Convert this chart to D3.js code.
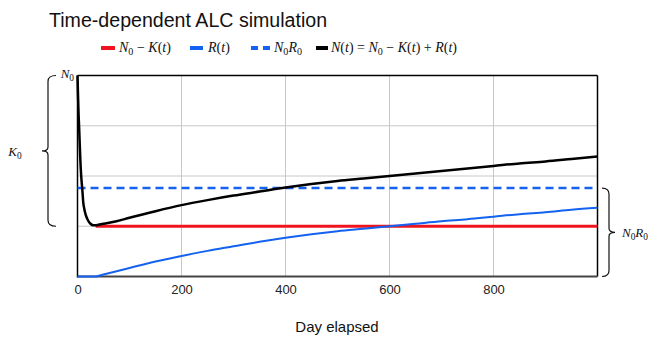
<!DOCTYPE html>
<html><head><meta charset="utf-8">
<script src="https://cdn.jsdelivr.net/npm/d3@7"></script>
<style>body{margin:0;background:#fff}svg{display:block}</style>
</head><body>
<svg id="c" width="648" height="337"></svg>
<script>
// ---- data ----
const title = "Time-dependent ALC simulation";
const xLabel = "Day elapsed";
const xTicks = [0, 200, 400, 600, 800];
const yGrid = [1, 2, 3];
const N0 = 4;          // initial level (top of chart)
const K0 = 3;          // total drop
const N0R0 = 1.76;     // asymptote of R(t)
const redDays = [0, 30, 35, 1000];
const redVals = [null, null, 1, 1];
const rDays = [0, 35, 50, 100, 150, 200, 250, 300, 350, 400, 450, 500, 550, 600, 650, 700, 750, 800, 850, 900, 950, 1000];
const rVals = [0, 0, 0.04, 0.17, 0.30, 0.41, 0.51, 0.60, 0.69, 0.77, 0.84, 0.90, 0.95, 1.00, 1.05, 1.10, 1.14, 1.19, 1.24, 1.28, 1.33, 1.37];
const nDays = [0, 1, 2, 3, 4, 5, 6, 7, 8, 9, 10, 11, 13, 16, 20, 25, 30, 35, 40, 50, 75, 100, 150, 200, 250, 300, 350, 400, 450, 500, 550, 600, 650, 700, 750, 800, 850, 900, 950, 1000];
const nVals = [4.0, 3.6, 3.25, 3.0, 2.72, 2.45, 2.2, 2.02, 1.88, 1.76, 1.62, 1.48, 1.35, 1.22, 1.12, 1.05, 1.02, 1.02, 1.03, 1.05, 1.10, 1.17, 1.30, 1.42, 1.52, 1.61, 1.69, 1.77, 1.84, 1.90, 1.95, 2.00, 2.05, 2.10, 2.15, 2.20, 2.25, 2.29, 2.34, 2.39];

const colRed = "#f0141e", colBlue = "#1462f0", colBlack = "#000";

// ---- layout ----
const svg = d3.select("#c");
const x = d3.scaleLinear().domain([0, 1000]).range([77.5, 597.5]);
const y = d3.scaleLinear().domain([0, 4]).range([276.5, 75.5]);
const mathFont = "'Liberation Serif', 'DejaVu Serif', serif";
const sans = "'Liberation Sans', Arial, sans-serif";

// title
svg.append("text").attr("x", 49).attr("y", 27).attr("font-family", sans)
  .attr("font-size", 19.6).attr("fill", "#111").text(title);

// grid
svg.append("g").selectAll("line").data(xTicks.filter(d => d > 0)).join("line")
  .attr("x1", d => x(d)).attr("x2", d => x(d)).attr("y1", y(4)).attr("y2", y(0))
  .attr("stroke", "#c8c8c8").attr("stroke-width", 1);
svg.append("g").selectAll("line").data(yGrid).join("line")
  .attr("x1", x(0)).attr("x2", x(1000)).attr("y1", d => y(d)).attr("y2", d => y(d))
  .attr("stroke", "#c8c8c8").attr("stroke-width", 1);

// frame
svg.append("line").attr("x1", x(0)).attr("x2", x(1000)).attr("y1", y(4)).attr("y2", y(4)).attr("stroke", "#000").attr("stroke-width", 1.5);
svg.append("line").attr("x1", x(1000)).attr("x2", x(1000)).attr("y1", y(4)).attr("y2", y(0)).attr("stroke", "#000").attr("stroke-width", 1.5);

// x axis
const xAxis = d3.axisBottom(x).tickValues(xTicks).tickSize(0).tickPadding(8);
const gx = svg.append("g").attr("transform", `translate(0,${y(0)})`).call(xAxis);
gx.select(".domain").attr("stroke", "#444").attr("stroke-width", 2.2).attr("d", `M${x(0)},0H${x(1000)}`);
gx.selectAll("text").attr("font-family", sans).attr("font-size", 13).attr("fill", "#222");
svg.append("line").attr("x1", x(0)).attr("x2", x(0)).attr("y1", y(4)).attr("y2", y(0) + 1).attr("stroke", "#000").attr("stroke-width", 1.5);

svg.append("text").attr("x", 337).attr("y", 332).attr("text-anchor", "middle")
  .attr("font-family", sans).attr("font-size", 15).attr("fill", "#111").text(xLabel);

// lines
const line = d3.line().defined(d => d[1] != null).x(d => x(d[0])).y(d => y(d[1])).curve(d3.curveMonotoneX);
svg.append("path").datum(redDays.map((d, i) => [d, redVals[i]])).attr("d", line)
  .attr("fill", "none").attr("stroke", colRed).attr("stroke-width", 3);
svg.append("path").datum([[0, N0R0], [1000, N0R0]]).attr("d", line)
  .attr("fill", "none").attr("stroke", colBlue).attr("stroke-width", 2.5).attr("stroke-dasharray", "8,5");
svg.append("path").datum(rDays.map((d, i) => [d, rVals[i]])).attr("d", line)
  .attr("fill", "none").attr("stroke", colBlue).attr("stroke-width", 2);
svg.append("path").datum(nDays.map((d, i) => [d, nVals[i]])).attr("d", line)
  .attr("fill", "none").attr("stroke", colBlack).attr("stroke-width", 2.5);

// math text helper: tokens [text, style] style: i italic, s subscript, a back to baseline
function mathText(g, xx, yy, tokens, size, anchor) {
  const t = g.append("text").attr("x", xx).attr("y", yy).attr("font-family", mathFont)
    .attr("font-size", size).attr("fill", "#111").attr("text-anchor", anchor || "start")
    .attr("xml:space", "preserve");
  tokens.forEach(([s, st]) => {
    const sp = t.append("tspan").text(s);
    if (st.includes("i")) sp.attr("font-style", "italic");
    if (st === "s") { sp.attr("font-size", size * 0.72).attr("dy", size * 0.22); }
    if (st.includes("a")) { sp.attr("dy", -size * 0.22); }
  });
  return t;
}

// legend
const leg = svg.append("g");
const ly = 51;
function swatch(x1, x2, col, dash) {
  leg.append("line").attr("x1", x1).attr("x2", x2).attr("y1", ly - 3).attr("y2", ly - 3)
    .attr("stroke", col).attr("stroke-width", 4).attr("stroke-dasharray", dash || null);
}
swatch(101, 115, colRed);
mathText(leg, 119, ly + 1, [["N", "i"], ["0", "s"], [" − ", "a"], ["K", "i"], ["(", ""], ["t", "i"], [")", ""]], 14);
swatch(190, 203, colBlue);
mathText(leg, 208, ly + 1, [["R", "i"], ["(", ""], ["t", "i"], [")", ""]], 14);
swatch(251, 270, colBlue, "7,5");
mathText(leg, 274, ly + 1, [["N", "i"], ["0", "s"], ["R", "ai"], ["0", "s"]], 14);
swatch(316, 328, colBlack);
mathText(leg, 331, ly + 1, [["N", "i"], ["(", ""], ["t", "i"], [") = ", ""], ["N", "i"], ["0", "s"], [" − ", "a"], ["K", "i"], ["(", ""], ["t", "i"], [") + ", ""], ["R", "i"], ["(", ""], ["t", "i"], [")", ""]], 14);

// annotations: N0 label at top-left
mathText(svg, 74, 78, [["N", "i"], ["0", "s"]], 13, "end");
// K0 brace on left
const bx = 48, yTop = y(N0), yBot = y(N0 - K0), yMid = (yTop + yBot) / 2;
svg.append("path").attr("fill", "none").attr("stroke", "#111").attr("stroke-width", 1.2)
  .attr("d", `M${bx + 8},${yTop} Q${bx},${yTop} ${bx},${yTop + 6} L${bx},${yMid - 4} Q${bx},${yMid} ${bx - 6},${yMid} Q${bx},${yMid} ${bx},${yMid + 4} L${bx},${yBot - 6} Q${bx},${yBot} ${bx + 8},${yBot}`);
mathText(svg, 15, yMid + 5, [["K", "i"], ["0", "s"]], 13, "middle");
// N0R0 brace on right
const rx = 609, rTop = y(N0R0), rBot = y(0), rMid = (rTop + rBot) / 2;
svg.append("path").attr("fill", "none").attr("stroke", "#111").attr("stroke-width", 1.2)
  .attr("d", `M${rx - 7},${rTop} Q${rx},${rTop} ${rx},${rTop + 6} L${rx},${rMid - 4} Q${rx},${rMid} ${rx + 6},${rMid} Q${rx},${rMid} ${rx},${rMid + 4} L${rx},${rBot - 6} Q${rx},${rBot} ${rx - 7},${rBot}`);
mathText(svg, 622, rMid + 5, [["N", "i"], ["0", "s"], ["R", "ai"], ["0", "s"]], 13);
</script>
</body></html>
